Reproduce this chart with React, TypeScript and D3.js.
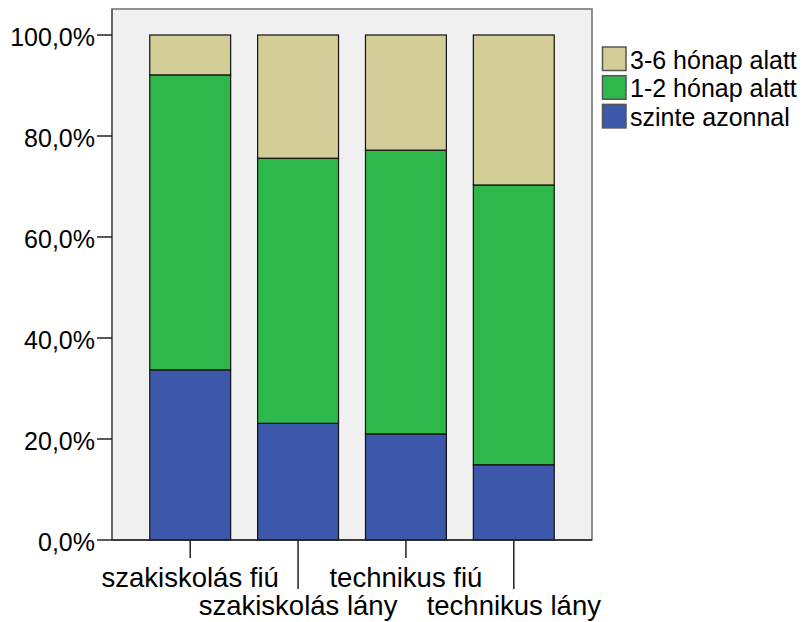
import React from "react";
import * as d3 from "d3";

const categories = ["szakiskolás fiú", "szakiskolás lány", "technikus fiú", "technikus lány"];
const seriesNames = ["szinte azonnal", "1-2 hónap alatt", "3-6 hónap alatt"];
const szinteAzonnal = [33.7, 23.1, 21.0, 14.9];
const egyKetHonap = [58.4, 52.5, 56.2, 55.4];
const haromHatHonap = [7.9, 24.4, 22.8, 29.7];
const yTicks = [0, 20, 40, 60, 80, 100];
const colors = ["#3d58aa", "#2eb84b", "#d3ce98"];

const W = 805;
const H = 622;
const plot = { left: 112, top: 9, right: 592, bottom: 540 };

export default function App() {
  const rows = categories.map((c, i) => ({
    cat: c,
    [seriesNames[0]]: szinteAzonnal[i],
    [seriesNames[1]]: egyKetHonap[i],
    [seriesNames[2]]: haromHatHonap[i],
  }));
  const stack = d3.stack<any>().keys(seriesNames);
  const layers = stack(rows);

  const x = d3
    .scaleBand<string>()
    .domain(categories)
    .range([plot.left, plot.right])
    .paddingInner(0.25)
    .paddingOuter(0.35);
  const y = d3.scaleLinear().domain([0, 100]).range([540, 35]);
  const fmt = (v: number) => d3.format(".1f")(v).replace(".", ",") + "%";

  const legendItems = [...seriesNames].reverse();

  return (
    <svg
      width={W}
      height={H}
      style={{ position: "absolute", left: 0, top: 0, background: "#fff" }}
      fontFamily="'Liberation Sans', Arial, sans-serif"
    >
      <rect
        x={plot.left}
        y={plot.top}
        width={plot.right - plot.left}
        height={plot.bottom - plot.top}
        fill="#f0f0f0"
        stroke="#6e6e6e"
        strokeWidth={1.5}
      />
      {layers.map((layer, li) =>
        layer.map((d, i) => (
          <rect
            key={`${li}-${i}`}
            x={x(categories[i])!}
            y={y(d[1])}
            width={x.bandwidth()}
            height={y(d[0]) - y(d[1])}
            fill={colors[li]}
            stroke="#111"
            strokeWidth={1.2}
          />
        ))
      )}
      <line x1={plot.left} x2={plot.left} y1={plot.top} y2={plot.bottom} stroke="#666" strokeWidth={2} />
      <line x1={plot.left} x2={plot.right} y1={plot.bottom} y2={plot.bottom} stroke="#222" strokeWidth={1.5} />
      {yTicks.map((t) => (
        <g key={t}>
          <line x1={plot.left - 15} x2={plot.left} y1={y(t)} y2={y(t)} stroke="#222" strokeWidth={1.5} />
          <text x={plot.left - 17} y={y(t) + 10.5} textAnchor="end" fontSize={25} fill="#000">
            {fmt(t)}
          </text>
        </g>
      ))}
      {categories.map((c, i) => {
        const cx = x(c)! + x.bandwidth() / 2;
        const long = i % 2 === 1;
        return (
          <g key={c}>
            <line x1={cx} x2={cx} y1={plot.bottom} y2={long ? 589 : 558} stroke="#222" strokeWidth={1.5} />
            <text x={cx} y={long ? 615 : 587} textAnchor="middle" fontSize={27.5} fill="#000">
              {c}
            </text>
          </g>
        );
      })}
      {legendItems.map((name, i) => {
        const idx = seriesNames.indexOf(name);
        const yy = 47 + i * 28.7;
        return (
          <g key={name}>
            <rect x={602.5} y={yy} width={23.5} height={23.5} fill={colors[idx]} stroke="#555" strokeWidth={1.5} />
            <text x={630} y={yy + 21.5} fontSize={25} fill="#000">
              {name}
            </text>
          </g>
        );
      })}
    </svg>
  );
}
